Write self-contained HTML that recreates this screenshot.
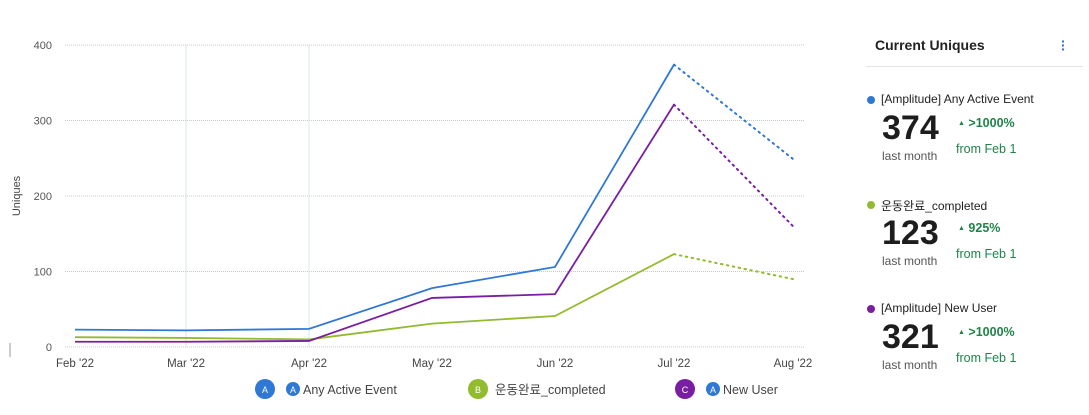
<!DOCTYPE html>
<html><head><meta charset="utf-8"><style>
body{margin:0;width:1089px;height:415px;background:#fff;font-family:"Liberation Sans","Noto Sans CJK KR",sans-serif;overflow:hidden;position:relative}
.panel{position:absolute;left:866px;top:0;width:223px}
.title{position:absolute;left:9px;top:37px;font-size:14px;font-weight:bold;color:#222}
.dots{position:absolute;left:195px;top:39px;color:#2f6fd0;font-size:14px;font-weight:bold;line-height:4px;width:4px}
.sep{position:absolute;left:0;top:66px;width:217px;height:1px;background:#e3e3e3}
.entry{position:absolute;left:0;width:223px}
.ename{position:absolute;left:15px;top:0;font-size:12px;color:#222;white-space:nowrap}
.edot{position:absolute;left:1px;top:4px;width:8px;height:8px;border-radius:50%}
.big{position:absolute;left:16px;top:17px;font-size:34px;font-weight:bold;color:#1d1d1d}
.lm{position:absolute;left:16px;top:57px;font-size:12px;color:#555}
.pct{position:absolute;left:92px;top:24px;font-size:12.5px;font-weight:bold;color:#1e8449}
.pct small{font-size:7px;vertical-align:middle}
.from{position:absolute;left:90px;top:50px;font-size:12.5px;color:#1e8449}
</style></head><body>
<svg id="chart" width="860" height="415" style="position:absolute;left:0;top:0"></svg>
<div class="panel">
<div class="title">Current Uniques</div>
<div class="dots">·<br>·<br>·</div>
<div class="sep"></div>
<div class="entry" style="top:92px"><span class="edot" style="background:#2f78d6"></span><span class="ename">[Amplitude] Any Active Event</span><span class="big">374</span><span class="lm">last month</span><span class="pct"><small>▲</small> &gt;1000%</span><span class="from">from Feb 1</span></div>
<div class="entry" style="top:197px"><span class="edot" style="background:#92bb2d"></span><span class="ename">운동완료_completed</span><span class="big">123</span><span class="lm">last month</span><span class="pct"><small>▲</small> 925%</span><span class="from">from Feb 1</span></div>
<div class="entry" style="top:301px"><span class="edot" style="background:#7a1ea1"></span><span class="ename">[Amplitude] New User</span><span class="big">321</span><span class="lm">last month</span><span class="pct"><small>▲</small> &gt;1000%</span><span class="from">from Feb 1</span></div>
</div>
<script>
const months=["Feb '22","Mar '22","Apr '22","May '22","Jun '22","Jul '22","Aug '22"];
const dayOffsets=[0,28,59,90,121,151,181];
const yTicks=[0,100,200,300,400];
const anyActive=[23,22,24,78,106,374,249];
const completed=[13,12,10,31,41,123,90];
const newUser=[7,7,8,65,70,321,160];
const svg=document.getElementById('chart');const NS='http://www.w3.org/2000/svg';
const x=d=>75+d*(718/181);const y=v=>347-v*(302/400);
function mk(t,a,txt){const e=document.createElementNS(NS,t);for(const k in a)e.setAttribute(k,a[k]);if(txt!==undefined)e.textContent=txt;svg.appendChild(e);return e;}
yTicks.forEach(v=>{const g=mk('line',{x1:65,x2:805,y1:y(v),y2:y(v),stroke:'#c8c8c8','stroke-dasharray':'1,1'});


const t=mk('text',{x:52,y:y(v)+4,'text-anchor':'end','font-size':11,fill:'#555'},v);

});
[1,2].forEach(i=>{const l=mk('line',{x1:x(dayOffsets[i]),x2:x(dayOffsets[i]),y1:45,y2:347,stroke:'#d8e6ea'});

});
months.forEach((m,i)=>{const t=mk('text',{x:x(dayOffsets[i]),y:367,'text-anchor':'middle','font-size':11.5,fill:'#444'},m);

});
const yt=mk('text',{x:20,y:196,transform:'rotate(-90 20 196)','text-anchor':'middle','font-size':11,fill:'#444'},'Uniques');


const ax=mk('line',{x1:10,x2:10,y1:343,y2:357,stroke:'#999'});


[[anyActive,'#2f78d6','any-active-event'],[completed,'#92bb2d','completed'],[newUser,'#7a1ea1','new-user']].forEach(([s,c,n])=>{
const pts=s.slice(0,6).map((v,i)=>x(dayOffsets[i])+','+y(v)).join(' ');
const p=mk('polyline',{points:pts,fill:'none',stroke:c,'stroke-width':1.8});


const d=mk('line',{x1:x(dayOffsets[5]),y1:y(s[5]),x2:x(dayOffsets[6]),y2:y(s[6]),stroke:c,'stroke-width':2,'stroke-dasharray':'1.5,4.5','stroke-linecap':'round'});

});
const legend=[[265,'A','#2f78d6',true,'Any Active Event'],[478,'B','#92bb2d',false,'운동완료_completed'],[685,'C','#7a1ea1',true,'New User']];
legend.forEach(([lx,l,c,ic,txt])=>{
const g=mk('g',{});


const e=(t,a,tx)=>{const el=document.createElementNS(NS,t);for(const k in a)el.setAttribute(k,a[k]);if(tx!==undefined)el.textContent=tx;g.appendChild(el);};
e('circle',{cx:lx,cy:389,r:10,fill:c});
e('text',{x:lx,y:393,'text-anchor':'middle','font-size':9,fill:'#fff'},l);
let tx=lx+17;
if(ic){e('circle',{cx:lx+28,cy:389,r:7,fill:'#2f78d6'});e('text',{x:lx+28,y:393,'text-anchor':'middle','font-size':9,fill:'#fff'},'A');tx=lx+38;}
e('text',{x:tx,y:394,'font-size':12.5,fill:'#444'},txt);});
</script>
</body></html>
